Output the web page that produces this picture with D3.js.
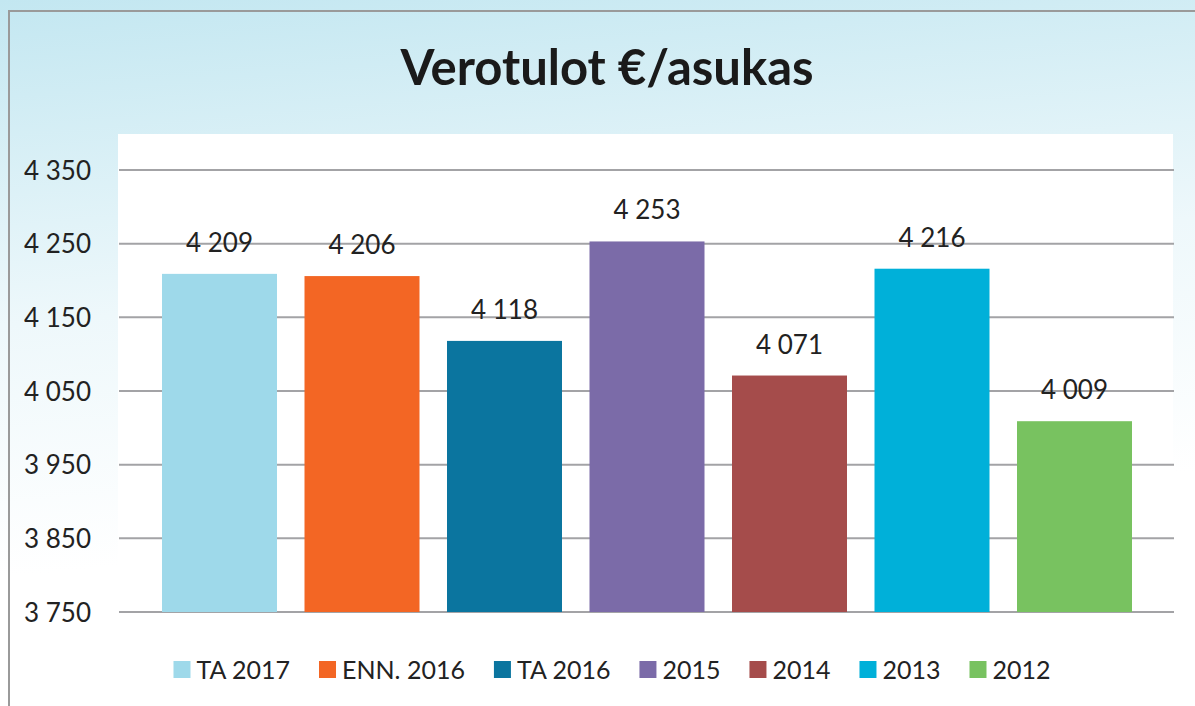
<!DOCTYPE html>
<html>
<head>
<meta charset="utf-8">
<script src="https://cdn.jsdelivr.net/npm/d3@7"></script>
<style>
  body { margin: 0; background: #fff; }
  svg { display: block; }
</style>
</head>
<body>
<svg></svg>
<script>
var categories = ["TA 2017", "ENN. 2016", "TA 2016", "2015", "2014", "2013", "2012"];
var values = [4209, 4206, 4118, 4253, 4071, 4216, 4009];
var colors = ["#9ed9ea", "#f36624", "#0b759f", "#7b6ba8", "#a54c4b", "#00b0d9", "#78c260"];
var tickValues = [3750, 3850, 3950, 4050, 4150, 4250, 4350];

var width = 1195;
var height = 706;
var fontFam = "Lato, 'Open Sans', sans-serif";

var svg = d3.select("svg")
            .attr("width", width)
            .attr("height", height);

// background gradient
var defs = svg.append("defs");
var grad = defs.append("linearGradient")
               .attr("id", "bg")
               .attr("x1", 0).attr("y1", 0)
               .attr("x2", 0.15).attr("y2", 1);
grad.append("stop").attr("offset", "0%").attr("stop-color", "#c3e7f1");
grad.append("stop").attr("offset", "45%").attr("stop-color", "#eef8fb");
grad.append("stop").attr("offset", "80%").attr("stop-color", "#ffffff");

svg.append("rect")
   .attr("width", width)
   .attr("height", height)
   .attr("fill", "url(#bg)");

// frame
svg.append("path")
   .attr("d", "M9," + height + " V11 H" + (width + 5))
   .attr("fill", "none")
   .attr("stroke", "#9a9a9a")
   .attr("stroke-width", 2);

// plot area
svg.append("rect")
   .attr("x", 118)
   .attr("y", 134)
   .attr("width", 1173 - 118)
   .attr("height", 520)
   .attr("fill", "#ffffff");

var y = d3.scaleLinear()
          .domain([3750, 4350])
          .range([612, 170]);

var x = d3.scaleBand()
          .domain(categories)
          .range([148.25, 1145.75])
          .paddingInner(0.193)
          .paddingOuter(0.0965);

var fmt = function(d) { return d3.format(",")(d).replace(",", " "); };

// gridlines
svg.selectAll("line.grid")
   .data(tickValues)
   .enter()
   .append("line")
   .attr("class", "grid")
   .attr("x1", 119)
   .attr("x2", 1174)
   .attr("y1", function(d) { return y(d); })
   .attr("y2", function(d) { return y(d); })
   .attr("stroke", "#a3a3a6")
   .attr("stroke-width", 2);

// y axis labels
var yAxis = d3.axisLeft(y)
              .tickValues(tickValues)
              .tickSize(0)
              .tickPadding(0)
              .tickFormat(fmt);
var ay = svg.append("g")
            .attr("transform", "translate(91,0)")
            .call(yAxis);
ay.select(".domain").remove();
ay.selectAll("text")
  .attr("font-family", fontFam)
  .attr("font-size", 26)
  .attr("fill", "#222")
  .attr("dy", "0.35em");

// bars
svg.selectAll("rect.bar")
   .data(values)
   .enter()
   .append("rect")
   .attr("class", "bar")
   .attr("x", function(d, i) { return x(categories[i]); })
   .attr("y", function(d) { return y(d); })
   .attr("width", x.bandwidth())
   .attr("height", function(d) { return y(3750) - y(d); })
   .attr("fill", function(d, i) { return colors[i]; });

// value labels
svg.selectAll("text.val")
   .data(values)
   .enter()
   .append("text")
   .attr("class", "val")
   .text(fmt)
   .attr("x", function(d, i) { return x(categories[i]) + x.bandwidth() / 2; })
   .attr("y", function(d) { return y(d) - 22; })
   .attr("text-anchor", "middle")
   .attr("font-family", fontFam)
   .attr("font-size", 26)
   .attr("fill", "#222");

// title
svg.append("text")
   .text("Verotulot €/asukas")
   .attr("x", 607)
   .attr("y", 85)
   .attr("text-anchor", "middle")
   .attr("font-family", fontFam)
   .attr("font-weight", "bold")
   .attr("font-size", 49)
   .attr("fill", "#1a1a1a");

// legend
var legend = svg.append("g");
var lx = 0;
categories.forEach(function(c, i) {
  var g = legend.append("g").attr("transform", "translate(" + lx + ",0)");
  g.append("rect")
   .attr("x", 0)
   .attr("y", -9)
   .attr("width", 17)
   .attr("height", 17)
   .attr("fill", colors[i]);
  var t = g.append("text")
           .text(c)
           .attr("x", 23)
           .attr("y", 0)
           .attr("dy", "0.35em")
           .attr("font-family", fontFam)
           .attr("font-size", 25)
           .attr("fill", "#222");
  lx += 23 + t.node().getComputedTextLength() + 29;
});
lx -= 29;
legend.attr("transform", "translate(" + (612 - lx / 2) + ",670)");
</script>
</body>
</html>
